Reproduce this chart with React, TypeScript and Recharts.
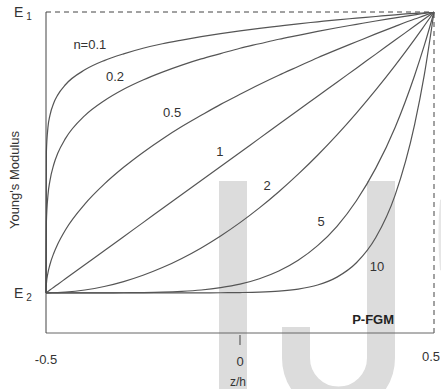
import React from 'react';
import { LineChart, Line, XAxis, YAxis, ReferenceLine, ReferenceDot, Customized } from 'recharts';

// z/h positions (denser near the edges where curves bend hard)
const zh = [
  -0.5, -0.499, -0.495, -0.49, -0.48, -0.47, -0.45, -0.4, -0.35, -0.3, -0.25, -0.2, -0.15, -0.1, -0.05,
  0, 0.05, 0.1, 0.15, 0.2, 0.25, 0.3, 0.35, 0.4, 0.45, 0.475, 0.5,
];

// normalised modulus (0 = E2, 1 = E1)
const n01 = [0, 0.501, 0.589, 0.631, 0.676, 0.704, 0.741, 0.794, 0.827, 0.851, 0.871, 0.887, 0.9, 0.912, 0.923, 0.933, 0.942, 0.95, 0.958, 0.965, 0.972, 0.978, 0.984, 0.99, 0.995, 0.997, 1];
const n02 = [0, 0.251, 0.347, 0.398, 0.457, 0.496, 0.549, 0.631, 0.684, 0.725, 0.758, 0.786, 0.811, 0.833, 0.852, 0.871, 0.887, 0.903, 0.917, 0.931, 0.944, 0.956, 0.968, 0.979, 0.99, 0.995, 1];
const n05 = [0, 0.032, 0.071, 0.1, 0.141, 0.173, 0.224, 0.316, 0.387, 0.447, 0.5, 0.548, 0.592, 0.632, 0.671, 0.707, 0.742, 0.775, 0.806, 0.837, 0.866, 0.894, 0.922, 0.949, 0.975, 0.987, 1];
const n1 = [0, 0.001, 0.005, 0.01, 0.02, 0.03, 0.05, 0.1, 0.15, 0.2, 0.25, 0.3, 0.35, 0.4, 0.45, 0.5, 0.55, 0.6, 0.65, 0.7, 0.75, 0.8, 0.85, 0.9, 0.95, 0.975, 1];
const n2 = [0, 0, 0, 0.0001, 0.0004, 0.0009, 0.0025, 0.01, 0.0225, 0.04, 0.0625, 0.09, 0.1225, 0.16, 0.2025, 0.25, 0.3025, 0.36, 0.4225, 0.49, 0.5625, 0.64, 0.7225, 0.81, 0.9025, 0.951, 1];
const n5 = [0, 0, 0, 0, 0, 0, 0, 0.00001, 0.00008, 0.0003, 0.001, 0.0024, 0.0053, 0.0102, 0.0185, 0.031, 0.0503, 0.0778, 0.116, 0.168, 0.237, 0.328, 0.444, 0.59, 0.774, 0.881, 1];
const n10 = [0, 0, 0, 0, 0, 0, 0, 0, 0, 0, 0, 0, 0, 0.0001, 0.0003, 0.001, 0.0025, 0.006, 0.0135, 0.028, 0.056, 0.107, 0.197, 0.349, 0.599, 0.776, 1];

const seriesKeys = ['n01', 'n02', 'n05', 'n1', 'n2', 'n5', 'n10'];
const seriesValues = [n01, n02, n05, n1, n2, n5, n10];

// curve labels: text, z/h, modulus
const curveLabels: [string, number, number][] = [
  ['n=0.1', -0.387, 0.886],
  ['0.2', -0.322, 0.769],
  ['0.5', -0.175, 0.641],
  ['1', -0.052, 0.502],
  ['2', 0.07, 0.384],
  ['5', 0.209, 0.256],
  ['10', 0.353, 0.093],
];

const data = zh.map((x, i) => {
  const row: Record<string, number> = { x };
  seriesKeys.forEach((k, j) => (row[k] = seriesValues[j][i]));
  return row;
});

const INK = '#444';
const FONT = '"Liberation Sans", Arial, sans-serif';

const XTick = (props: any) => {
  const { x, y, payload } = props;
  const v = payload.value;
  const dy = v === 0 ? 25 : v < 0 ? 23 : 20;
  return (
    <g>
      {v === 0 && <line x1={x} y1={y - 6} x2={x} y2={y + 4} stroke={INK} strokeWidth={1} />}
      <text x={x} y={y + dy} textAnchor="middle" fontSize={13} fill="#333" fontFamily={FONT}>
        {v === 0 ? '0' : String(v)}
      </text>
    </g>
  );
};

const YTick = (props: any) => {
  const { y, payload } = props;
  return (
    <text x={14} y={y + 5} fontSize={14} fill="#333" fontFamily={FONT}>
      E
      <tspan dx={3} dy={3} fontSize={10}>{payload.value === 1 ? '1' : '2'}</tspan>
    </text>
  );
};

const Watermark = () => (
  <g fill="#dcdcdc" stroke="none">
    <rect x={219} y={181} width={28} height={210} />
    <path d="M 381 181 L 381 358 A 42.5 42.5 0 0 1 296 358 L 296 327" fill="none" stroke="#dcdcdc" strokeWidth={28} />
    <path d="M 443 200 A 6 55 0 0 0 443 270" fill="none" stroke="#e6e6e6" strokeWidth={6} />
  </g>
);

export default function App() {
  return (
    <div style={{ position: 'absolute', left: 0, top: 0, width: 441, height: 389, background: '#fff', fontFamily: FONT }}>
      <LineChart width={441} height={389} data={data} margin={{ top: 12, right: 7, bottom: 0, left: 0 }}>
        <Customized component={Watermark} />
        <XAxis
          type="number"
          dataKey="x"
          domain={[-0.5, 0.5]}
          ticks={[-0.5, 0, 0.5]}
          tick={<XTick />}
          tickLine={false}
          axisLine={{ stroke: '#666', strokeWidth: 1 }}
          height={56}
          label={{
            content: (p: any) => (
              <text x={p.viewBox.x + p.viewBox.width / 2 - 2} y={p.viewBox.y + 53} textAnchor="middle" fontSize={12} fill="#333" fontFamily={FONT}>
                z/h
              </text>
            ),
          }}
        />
        <YAxis
          type="number"
          domain={[-0.143, 1]}
          ticks={[0, 1]}
          allowDataOverflow
          width={46}
          tick={<YTick />}
          tickLine={false}
          axisLine={{ stroke: INK, strokeWidth: 1 }}
          label={{
            content: () => (
              <text transform="translate(19,180) rotate(-90)" textAnchor="middle" fontSize={13} fill="#333" fontFamily={FONT}>
                Young's Modulus
              </text>
            ),
          }}
        />
        <ReferenceLine y={1} stroke={INK} strokeDasharray="5 4" />
        <ReferenceLine x={0.5} stroke={INK} strokeDasharray="5 4" />
        {seriesKeys.map((k) => (
          <Line key={k} type="monotone" dataKey={k} stroke="#555" strokeWidth={1.2} dot={false} isAnimationActive={false} />
        ))}
        {curveLabels.map(([t, x, y]) => (
          <ReferenceDot
            key={t}
            x={x}
            y={y}
            r={0}
            stroke="none"
            label={{ value: t, position: 'center', fontSize: 13, fill: '#333', fontFamily: FONT }}
          />
        ))}
        <ReferenceDot
          x={0.343}
          y={-0.093}
          r={0}
          stroke="none"
          label={{ value: 'P-FGM', position: 'center', fontSize: 13, fontWeight: 'bold', fill: '#222', fontFamily: FONT }}
        />
      </LineChart>
    </div>
  );
}
